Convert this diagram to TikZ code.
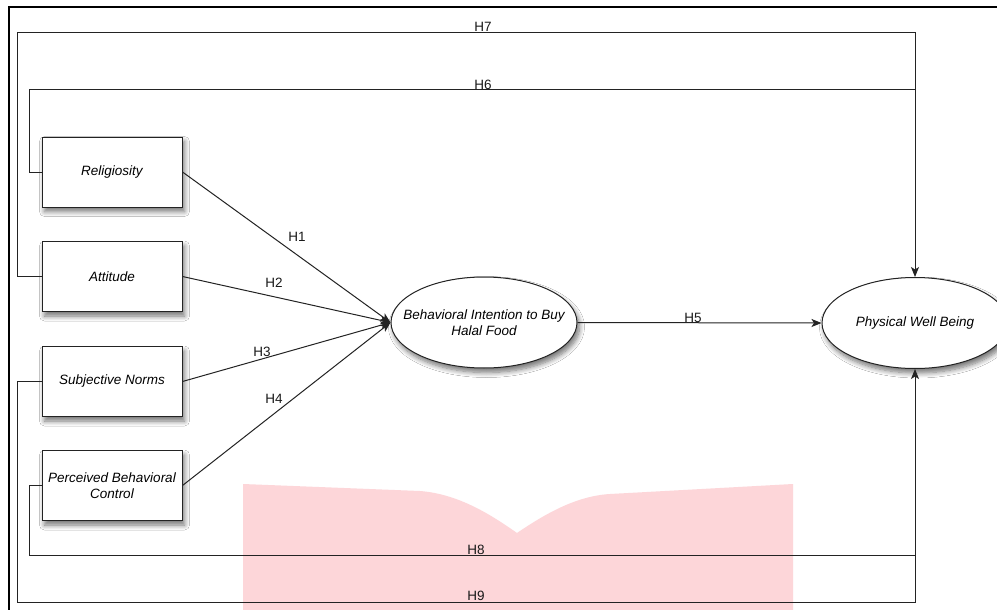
\documentclass[tikz,border=0pt]{standalone}
\usepackage{fontspec}
\setmainfont{Liberation Sans}
\usetikzlibrary{arrows.meta,shapes.geometric,shadows.blur}
\definecolor{pinkbg}{RGB}{253,214,217}
\definecolor{linec}{RGB}{35,35,35}
\begin{document}
\begin{tikzpicture}[x=1pt,y=-1pt,
  mysh/.style={blur shadow={shadow xshift=2.5pt,shadow yshift=-4.5pt,shadow blur radius=5pt,shadow blur steps=8,shadow opacity=55}},
  varbox/.style={draw=linec,line width=1pt,fill=white,minimum width=140pt,minimum height=70pt,inner sep=1pt,align=center,font=\itshape\fontsize{13.5}{15.5}\selectfont,mysh},
  varell/.style={ellipse,draw=linec,line width=1pt,fill=white,minimum width=186pt,minimum height=91pt,inner sep=0pt,mysh},
  elltext/.style={inner sep=0pt,align=center,font=\itshape\fontsize{13.5}{15.5}\selectfont},
  conn/.style={draw=linec,line width=1pt},
  arr/.style={conn,-{Stealth[length=10pt,width=8pt,inset=2.5pt]}},
  lbl/.style={font=\fontsize{13.5}{15}\selectfont,inner sep=0pt,text=black!90}
]
\useasboundingbox (0,0) rectangle (997,610);
\clip (0,0) rectangle (997,610);
\fill[white] (0,0) rectangle (997,610);
% background pink shape
\fill[pinkbg] (243,484) -- (420,491) .. controls (458,494) and (490,514) .. (517,533)
  .. controls (545,514) and (576,496) .. (610,494) -- (793,484) -- (793,610) -- (243,610) -- cycle;
% frame
\draw[line width=2pt,black] (9,610) -- (9,7.5) -- (997,7.5);
% nodes
\node[varbox] (rel) at (112,172) {Religiosity};
\node[varbox] (att) at (112,276.5) {Attitude};
\node[varbox] (sn)  at (112,381.5) {Subjective Norms};
\node[varbox] (pbc) at (112,485.5) {Perceived Behavioral\\Control};
\node[varell] (bi)  at (484,322.5) {};
\node[elltext] (bitxt) at (bi.center) {Behavioral Intention to Buy\\Halal Food};
\node[varell] (pwb) at (915,323) {};
\node[elltext] (pwbtxt) at (pwb.center) {Physical Well Being};
% coordinates for routed connectors
\coordinate (t7) at (915,33);
\coordinate (t6) at (915,90);
\coordinate (b8) at (915,555);
\coordinate (b9) at (915,602);
% direct connectors
\draw[arr] (rel.east) -- (bi.west);
\draw[arr] (att.east) -- (bi.west);
\draw[arr] (sn.east)  -- (bi.west);
\draw[arr] (pbc.east) -- (bi.west);
\draw[arr] (bi.east)  -- (pwb.west);
% routed connectors
\draw[arr] (att.west) -- ++(-24,0) |- (t7) -- (pwb.north);
\draw[conn] (rel.west) -- ++(-12,0) |- (t6);
\draw[arr] (sn.west) -- ++(-24,0) |- (b9) -- (pwb.south);
\draw[conn] (pbc.west) -- ++(-12,0) |- (b8);
% labels
\node[lbl] (h1) at (297,237) {H1};
\node[lbl] (h2) at (274,283) {H2};
\node[lbl] (h3) at (262,352) {H3};
\node[lbl] (h4) at (274,399) {H4};
\node[lbl] (h5) at (693,318) {H5};
\node[lbl] (h6) at (483,85) {H6};
\node[lbl] (h7) at (483,27) {H7};
\node[lbl] (h8) at (476,550) {H8};
\node[lbl] (h9) at (476,596) {H9};
\end{tikzpicture}
\end{document}
